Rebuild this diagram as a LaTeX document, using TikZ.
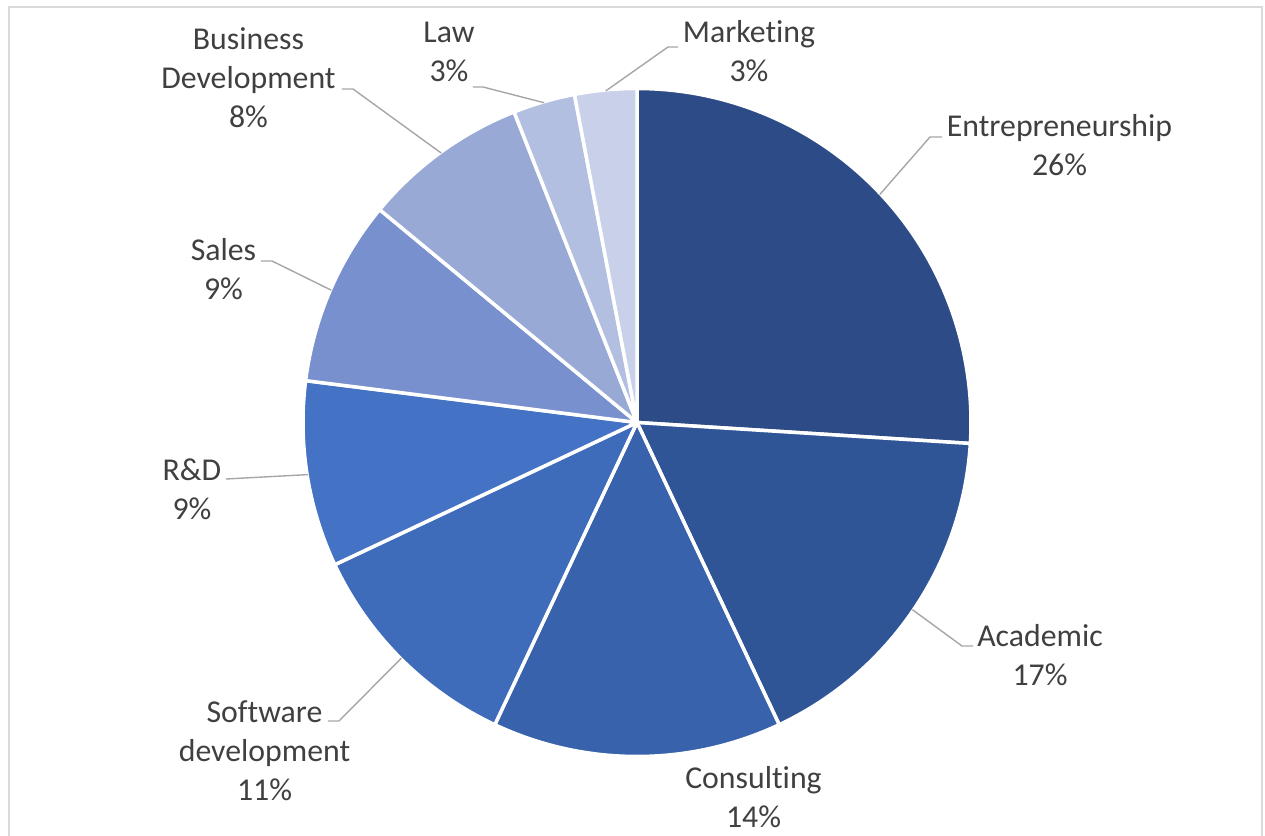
\documentclass[tikz,border=0pt]{standalone}
\usepackage{fontspec}
\setmainfont{Carlito}[Ligatures=NoCommon]

\definecolor{cEnt}{HTML}{2D4B86}
\definecolor{cAca}{HTML}{2F5597}
\definecolor{cCon}{HTML}{3862AB}
\definecolor{cSoft}{HTML}{3E6BBA}
\definecolor{cRD}{HTML}{4472C4}
\definecolor{cSal}{HTML}{7890CD}
\definecolor{cBD}{HTML}{99A9D6}
\definecolor{cLaw}{HTML}{B2BFE1}
\definecolor{cMkt}{HTML}{C8D0EA}
\definecolor{labelgray}{HTML}{404040}
\definecolor{leadgray}{HTML}{A6A6A6}
\definecolor{framegray}{HTML}{D9D9D9}

\tikzset{
  slice/.style={draw=white, line width=3.5pt, line join=round},
  leader/.style={draw=leadgray, line width=1.4pt},
  lbl/.style={text=labelgray, align=center, anchor=base, inner sep=0pt,
    font=\fontsize{31.8}{39}\selectfont},
}

\begin{document}
\begin{tikzpicture}[x=1pt,y=1pt]
  % page size, pie centre at the origin
  \useasboundingbox (-637,-412.5) rectangle (628,422.5);

  % light grey chart frame (bottom edge is cut off)
  \draw[framegray, line width=1.5pt] (-628,-440) -- (-628,415.5)
    -- (625,415.5) -- (625,-440);

  % slices, clockwise from twelve o'clock
  \foreach \a/\b/\col in {90/-3.6/cEnt, -3.6/-64.8/cAca, -64.8/-115.2/cCon,
      -115.2/-154.8/cSoft, -154.8/-187.2/cRD, -187.2/-219.6/cSal,
      -219.6/-248.4/cBD, -248.4/-259.2/cLaw, -259.2/-270/cMkt} {
    \filldraw[slice, fill=\col] (0,0) -- (\a:334)
      arc[start angle=\a, end angle=\b, radius=334] -- cycle;
  }

  % data labels (placed at the baseline of their last line)
  \node[lbl] (ent) at (422.5,246.5) {Entrepreneurship\\26\%};
  \node[lbl] (aca) at (403,-262.5) {Academic\\17\%};
  \node[lbl] (con) at (116.5,-404.5) {Consulting\\14\%};
  \node[lbl] (soft) at (-372.5,-377.5) {Software\\development\\11\%};
  \node[lbl] (rd) at (-445,-96.5) {R\&D\\9\%};
  \node[lbl] (sal) at (-413.5,122.5) {Sales\\9\%};
  \node[lbl] (bd) at (-388.5,294.5) {Business\\Development\\8\%};
  \node[lbl] (law) at (-188,340.5) {Law\\3\%};
  \node[lbl] (mkt) at (112,340.5) {Marketing\\3\%};

  % leader lines, from the middle of each slice rim
  \coordinate (ent-rim) at (43.2:333);
  \coordinate (aca-rim) at (-34.2:333);
  \coordinate (soft-rim) at (-135:333);
  \coordinate (rd-rim) at (-171:333);
  \coordinate (sal-rim) at (156.6:333);
  \coordinate (bd-rim) at (126:333);
  \coordinate (law-rim) at (106.2:333);
  \coordinate (mkt-rim) at (95.4:333);

  \draw[leader] (ent-rim) -- (293,285.5) -- (305,285.5);
  \draw[leader] (aca-rim) -- (325,-223.5) -- (336,-223.5);
  \draw[leader] (soft-rim) -- (-298,-298.5) -- (-309,-298.5);
  \draw[leader] (rd-rim) -- (-411,-56.5);
  \draw[leader] (sal-rim) -- (-365,161.5) -- (-376,161.5);
  \draw[leader] (bd-rim) -- (-284,333.5) -- (-295,333.5);
  \draw[leader] (law-rim) -- (-154,335.5) -- (-164,335.5);
  \draw[leader] (mkt-rim) -- (31,375.5) -- (41,375.5);
\end{tikzpicture}
\end{document}
